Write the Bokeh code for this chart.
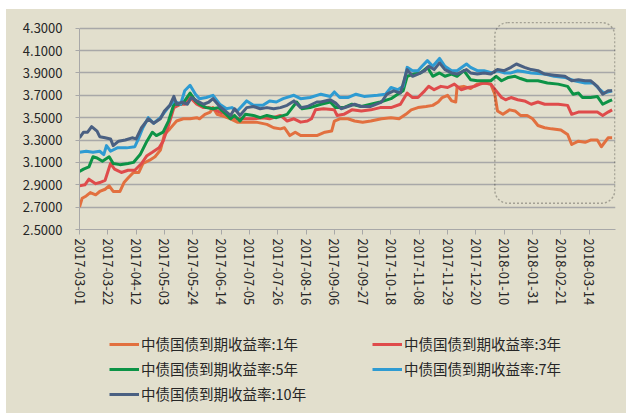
import pandas as pd
from math import pi
from bokeh.plotting import figure
from bokeh.layouts import column
from bokeh.models import (Range1d, FixedTicker, DatetimeTickFormatter, NumeralTickFormatter,
                          Legend, LegendItem, BoxAnnotation)
from bokeh.embed import file_html
from bokeh.resources import INLINE

# ---------------- data ----------------
base_date = "2017-03-01"   # day offsets below are counted from this date

series_names = ["中债国债到期收益率:1年", "中债国债到期收益率:3年", "中债国债到期收益率:5年",
                "中债国债到期收益率:7年", "中债国债到期收益率:10年"]

days_1y = [0, 2, 5, 8, 12, 15, 19, 22, 25, 30, 33, 36, 40, 44, 47, 52, 56, 60, 63, 67, 72, 77, 82, 87, 89,
           93, 97, 99, 102, 105, 112, 117, 124, 131, 139, 144, 149, 152, 156, 160, 164, 171, 176, 182, 187,
           189, 193, 199, 204, 210, 216, 224, 231, 237, 242, 246, 251, 257, 262, 266, 269, 273, 276, 279,
           280, 285, 290, 295, 300, 305, 308, 310, 314, 319, 323, 327, 332, 336, 340, 345, 350, 357, 362,
           365, 370, 375, 379, 384, 387, 392, 395]
yield_1y = [2.70, 2.78, 2.80, 2.83, 2.81, 2.84, 2.86, 2.89, 2.84, 2.84, 2.92, 2.96, 3.01, 3.01, 3.09, 3.12,
            3.15, 3.21, 3.35, 3.40, 3.47, 3.49, 3.49, 3.50, 3.49, 3.53, 3.55, 3.59, 3.53, 3.52, 3.49, 3.46,
            3.46, 3.46, 3.44, 3.41, 3.40, 3.41, 3.34, 3.37, 3.34, 3.34, 3.34, 3.37, 3.38, 3.47, 3.49, 3.49,
            3.47, 3.46, 3.47, 3.49, 3.50, 3.49, 3.53, 3.57, 3.59, 3.60, 3.61, 3.64, 3.68, 3.70, 3.65, 3.64,
            3.77, 3.78, 3.76, 3.80, 3.81, 3.80, 3.71, 3.56, 3.53, 3.57, 3.56, 3.52, 3.52, 3.49, 3.43, 3.41,
            3.40, 3.39, 3.35, 3.26, 3.29, 3.28, 3.30, 3.30, 3.24, 3.32, 3.32]

days_3y = [0, 4, 7, 12, 15, 19, 23, 26, 31, 36, 41, 46, 50, 54, 59, 62, 66, 70, 75, 78, 82, 87, 92, 96, 99,
           104, 112, 117, 122, 129, 136, 141, 149, 154, 159, 164, 169, 172, 175, 181, 189, 191, 196, 202,
           209, 216, 223, 231, 238, 243, 247, 251, 256, 259, 263, 268, 273, 278, 283, 288, 293, 297, 300,
           305, 309, 313, 316, 320, 325, 330, 335, 340, 345, 355, 362, 365, 370, 377, 384, 388, 392, 395]
yield_3y = [2.89, 2.90, 2.95, 2.91, 2.92, 2.94, 3.09, 3.04, 3.01, 3.03, 3.03, 3.09, 3.16, 3.19, 3.23, 3.29,
            3.43, 3.59, 3.62, 3.62, 3.68, 3.62, 3.59, 3.59, 3.58, 3.55, 3.52, 3.49, 3.49, 3.49, 3.50, 3.49,
            3.52, 3.47, 3.49, 3.46, 3.47, 3.49, 3.57, 3.58, 3.57, 3.52, 3.53, 3.57, 3.56, 3.57, 3.59, 3.59,
            3.62, 3.72, 3.68, 3.68, 3.74, 3.78, 3.75, 3.78, 3.77, 3.80, 3.75, 3.77, 3.78, 3.80, 3.81, 3.80,
            3.74, 3.68, 3.66, 3.68, 3.66, 3.65, 3.62, 3.64, 3.62, 3.62, 3.61, 3.53, 3.55, 3.55, 3.55, 3.52,
            3.55, 3.57]

days_5y = [0, 3, 7, 10, 13, 17, 22, 25, 30, 36, 40, 45, 50, 54, 57, 62, 66, 70, 75, 78, 82, 86, 89, 94, 99,
           103, 107, 112, 115, 119, 123, 129, 134, 139, 146, 154, 161, 165, 171, 179, 186, 190, 196, 202,
           209, 216, 223, 231, 236, 240, 243, 248, 253, 258, 262, 267, 271, 276, 280, 285, 290, 295, 300,
           305, 309, 313, 318, 323, 327, 332, 340, 347, 355, 362, 366, 370, 373, 379, 384, 388, 393, 395]
yield_5y = [3.02, 3.04, 3.06, 3.15, 3.14, 3.11, 3.15, 3.09, 3.08, 3.09, 3.10, 3.17, 3.29, 3.37, 3.34, 3.37,
            3.47, 3.62, 3.62, 3.65, 3.72, 3.65, 3.62, 3.59, 3.58, 3.59, 3.55, 3.49, 3.52, 3.47, 3.53, 3.52,
            3.50, 3.52, 3.50, 3.53, 3.64, 3.58, 3.59, 3.62, 3.64, 3.59, 3.59, 3.62, 3.60, 3.62, 3.64, 3.67,
            3.71, 3.74, 3.87, 3.89, 3.90, 3.95, 3.87, 3.90, 3.87, 3.89, 3.87, 3.92, 3.84, 3.83, 3.83, 3.83,
            3.87, 3.83, 3.86, 3.87, 3.85, 3.83, 3.83, 3.81, 3.80, 3.78, 3.71, 3.72, 3.68, 3.68, 3.69, 3.62,
            3.65, 3.66]

days_7y = [0, 5, 10, 15, 18, 20, 23, 28, 35, 41, 44, 47, 51, 55, 60, 65, 70, 75, 78, 82, 86, 89, 94, 99, 104,
           109, 113, 117, 124, 129, 136, 141, 146, 151, 159, 164, 171, 179, 186, 189, 193, 199, 205, 211,
           221, 227, 231, 236, 240, 243, 247, 251, 254, 258, 262, 267, 271, 276, 280, 287, 290, 295, 300,
           306, 310, 315, 320, 325, 330, 335, 345, 352, 360, 367, 375, 381, 386, 389, 395]
yield_7y = [3.19, 3.20, 3.19, 3.20, 3.17, 3.25, 3.20, 3.23, 3.23, 3.24, 3.32, 3.41, 3.50, 3.45, 3.50, 3.58,
            3.65, 3.62, 3.74, 3.79, 3.71, 3.67, 3.68, 3.70, 3.62, 3.58, 3.59, 3.56, 3.65, 3.61, 3.61, 3.65,
            3.64, 3.67, 3.70, 3.67, 3.68, 3.71, 3.69, 3.73, 3.68, 3.68, 3.71, 3.69, 3.70, 3.71, 3.77, 3.75,
            3.78, 3.95, 3.92, 3.92, 3.96, 4.01, 3.96, 4.03, 3.96, 3.92, 3.92, 3.98, 3.95, 3.92, 3.92, 3.90,
            3.92, 3.90, 3.90, 3.92, 3.91, 3.90, 3.89, 3.87, 3.86, 3.83, 3.81, 3.81, 3.75, 3.72, 3.74]

days_10y = [0, 3, 6, 9, 13, 15, 19, 23, 25, 29, 34, 39, 42, 46, 51, 55, 60, 63, 67, 70, 72, 76, 80, 83, 87,
            92, 96, 99, 104, 108, 112, 115, 119, 124, 129, 134, 139, 144, 149, 154, 159, 164, 169, 176, 179,
            186, 190, 194, 199, 204, 209, 216, 224, 228, 233, 238, 243, 247, 251, 256, 259, 263, 267, 271,
            276, 280, 287, 290, 295, 300, 305, 310, 315, 320, 324, 330, 335, 340, 345, 352, 360, 365, 370,
            375, 379, 384, 388, 392, 395]
yield_10y = [3.32, 3.37, 3.37, 3.42, 3.38, 3.33, 3.32, 3.31, 3.25, 3.29, 3.30, 3.32, 3.31, 3.41, 3.49, 3.45,
             3.49, 3.56, 3.61, 3.69, 3.62, 3.64, 3.62, 3.68, 3.65, 3.62, 3.64, 3.67, 3.60, 3.56, 3.52, 3.58,
             3.52, 3.59, 3.60, 3.58, 3.59, 3.58, 3.59, 3.61, 3.65, 3.59, 3.60, 3.64, 3.64, 3.66, 3.63, 3.58,
             3.60, 3.62, 3.60, 3.60, 3.64, 3.71, 3.74, 3.72, 3.93, 3.87, 3.89, 3.92, 3.96, 3.93, 3.99, 3.93,
             3.90, 3.89, 3.93, 3.90, 3.89, 3.90, 3.89, 3.93, 3.92, 3.95, 3.98, 3.95, 3.93, 3.92, 3.89, 3.88,
             3.87, 3.83, 3.84, 3.83, 3.83, 3.78, 3.71, 3.74, 3.74]

x_tick_labels = ["2017-03-01", "2017-03-22", "2017-04-12", "2017-05-03", "2017-05-24", "2017-06-14",
                 "2017-07-05", "2017-07-26", "2017-08-16", "2017-09-06", "2017-09-27", "2017-10-18",
                 "2017-11-08", "2017-11-29", "2017-12-20", "2018-01-10", "2018-01-31", "2018-02-21",
                 "2018-03-14"]
y_ticks = [2.5, 2.7, 2.9, 3.1, 3.3, 3.5, 3.7, 3.9, 4.1, 4.3]

# highlighted period (dashed rounded box)
highlight_start, highlight_end = "2018-01-03", "2018-04-02"
highlight_low, highlight_high = 2.735, 4.35

# ---------------- styling ----------------
colors = ["#e2703f", "#df4b4b", "#0c9346", "#2e9bd2", "#4a6082"]
bg = "#e2dfcd"
font = "Noto Sans CJK SC"
grid_col = "#a8a8a8"
txt_col = "#262626"

base = pd.Timestamp(base_date)
all_series = [(days_1y, yield_1y), (days_3y, yield_3y), (days_5y, yield_5y),
              (days_7y, yield_7y), (days_10y, yield_10y)]
last_day = max(max(d) for d, _ in all_series)

p = figure(width=620, height=311, x_axis_type="datetime", output_backend="svg", toolbar_location=None,
           x_range=Range1d(base, base + pd.Timedelta(days=last_day + 2.5)), y_range=Range1d(2.5, 4.36),
           min_border_left=73, min_border_right=11, min_border_top=12, min_border_bottom=91,
           background_fill_color=bg, border_fill_color=bg, outline_line_color=None)

for (d, v), c in zip(all_series, colors):
    dates = base + pd.to_timedelta(d, unit="D")
    p.line(dates, v, line_color=c, line_width=3, line_join="round")

# axes
p.yaxis.ticker = FixedTicker(ticks=y_ticks)
p.yaxis.bounds = (y_ticks[0], y_ticks[-1])
p.yaxis.formatter = NumeralTickFormatter(format="0.0000")
p.yaxis.major_label_text_font = font
p.yaxis.major_label_text_font_size = "13px"
p.yaxis.major_label_text_color = txt_col
p.yaxis.major_label_standoff = 13
p.yaxis.major_tick_out = 4
p.yaxis.major_tick_in = 0
p.yaxis.minor_tick_line_color = None
p.yaxis.axis_line_color = grid_col
p.yaxis.major_tick_line_color = grid_col

x_ticks = [pd.Timestamp(s).value / 1e6 for s in x_tick_labels]
p.xaxis.ticker = FixedTicker(ticks=x_ticks)
fmt = "%Y-%m-%d"
p.xaxis.formatter = DatetimeTickFormatter(milliseconds=fmt, seconds=fmt, minsec=fmt, minutes=fmt,
                                          hourmin=fmt, hours=fmt, days=fmt, months=fmt, years=fmt)
p.xaxis.major_label_orientation = -pi / 2
p.xaxis.major_label_text_font = font
p.xaxis.major_label_text_font_size = "13px"
p.xaxis.major_label_text_color = txt_col
p.xaxis.major_label_standoff = 4
p.xaxis.major_tick_out = 5
p.xaxis.major_tick_in = 0
p.xaxis.minor_tick_line_color = None
p.xaxis.axis_line_color = grid_col
p.xaxis.major_tick_line_color = grid_col

p.xgrid.grid_line_color = None
p.ygrid.grid_line_color = grid_col
p.ygrid.grid_line_width = 1.3

# highlight box
box = BoxAnnotation(left=pd.Timestamp(highlight_start).value / 1e6,
                    right=pd.Timestamp(highlight_end).value / 1e6,
                    bottom=highlight_low, top=highlight_high,
                    fill_alpha=0, line_color="#111111", line_width=1.4, line_dash="2 2",
                    border_radius=13)
p.add_layout(box)

# legend strip below the chart: same series, plotted out of view, only their legend keys show
lg = figure(width=620, height=93, x_axis_type="datetime", output_backend="svg", toolbar_location=None,
            x_range=Range1d(0, 1), y_range=Range1d(0, 1), min_border=0,
            background_fill_color=bg, border_fill_color=bg, outline_line_color=None)
lg.axis.visible = False
lg.grid.visible = False
keys = []
for (d, v), c in zip(all_series, colors):
    dates = base + pd.to_timedelta(d, unit="D")
    keys.append(lg.line(dates, v, line_color=c, line_width=3))
legend = Legend(items=[LegendItem(label=n, renderers=[r]) for n, r in zip(series_names, keys)],
                location=(30, 9), orientation="horizontal", ncols=2,
                label_text_font=font, label_text_font_size="14.5px", label_text_color=txt_col,
                glyph_width=30, glyph_height=20, label_standoff=2, label_width=227, label_height=20,
                spacing=4, padding=0, margin=0, background_fill_alpha=0, border_line_color=None)
lg.add_layout(legend)

layout = column(p, lg, spacing=0, margin=(9, 0, 0, 6), styles={"background-color": bg})

open("out.html", "w").write(file_html(layout, INLINE))
